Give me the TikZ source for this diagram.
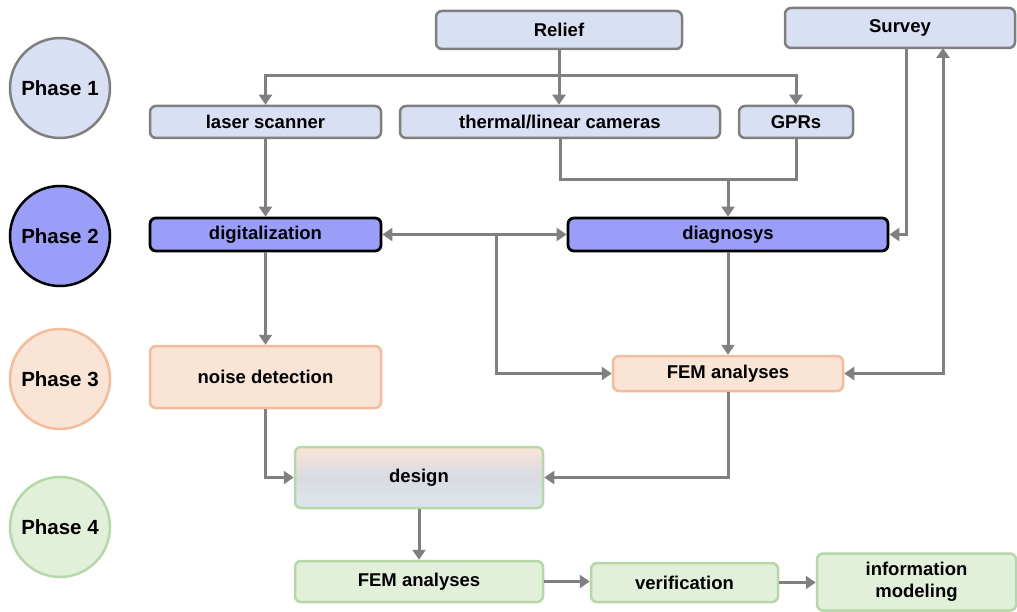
\documentclass[tikz,border=0pt]{standalone}
\usepackage{fontspec}
\setmainfont{Liberation Sans}
\usetikzlibrary{arrows.meta}
\definecolor{pA}{HTML}{DAE0F3}
\definecolor{pAd}{HTML}{7F7F7F}
\definecolor{pB}{HTML}{9A9EF8}
\definecolor{pC}{HTML}{F9E4D6}
\definecolor{pCd}{HTML}{F4BC98}
\definecolor{pD}{HTML}{E2EFD9}
\definecolor{pDd}{HTML}{B6D7A8}
\definecolor{arrc}{HTML}{808080}
\tikzset{
  box/.style={rectangle, rounded corners=6pt, line width=2.5pt, font=\fontsize{18.5}{21}\selectfont\bfseries, align=center, inner sep=0pt},
  ph1/.style={box, fill=pA, draw=pAd},
  ph2/.style={box, fill=pB, draw=black, line width=2.8pt},
  ph3/.style={box, fill=pC, draw=pCd},
  ph4/.style={box, fill=pD, draw=pDd},
  phase/.style={circle, minimum size=100pt, inner sep=0pt, line width=2.5pt, font=\fontsize{20.5}{24}\selectfont\bfseries},
  conn/.style={draw=arrc, line width=3pt},
  arr/.style={conn, -{Triangle[length=10pt,width=13pt]}},
  arrb/.style={conn, {Triangle[length=10pt,width=13pt]}-{Triangle[length=10pt,width=13pt]}},
}
\begin{document}
\begin{tikzpicture}[x=1pt,y=-1pt]
\useasboundingbox (0,0) rectangle (1017,612);
% phase circles
\node[phase, fill=pA, draw=pAd] (c1) at (60,88) {Phase 1};
\node[phase, fill=pB, draw=black] (c2) at (60,236) {Phase 2};
\node[phase, fill=pC, draw=pCd] (c3) at (60,379) {Phase 3};
\node[phase, fill=pD, draw=pDd] (c4) at (60,527) {Phase 4};
% boxes
\node[ph1, minimum width=246pt, minimum height=38pt] (relief) at (559,30) {Relief};
\node[ph1, minimum width=230pt, minimum height=40pt] (survey) at (900,28) {Survey};
\node[ph1, minimum width=231pt, minimum height=32pt] (laser) at (265.5,122) {laser scanner};
\node[ph1, minimum width=320pt, minimum height=32pt] (thermal) at (560,122) {thermal/linear cameras};
\node[ph1, minimum width=114pt, minimum height=32pt] (gprs) at (796,122) {GPRs};
\node[ph2, minimum width=231pt, minimum height=33pt] (digit) at (265.5,234.5) {digitalization};
\node[ph2, minimum width=320pt, minimum height=33pt] (diag) at (728,234.5) {diagnosys};
\node[ph3, minimum width=231pt, minimum height=62pt] (noise) at (265.5,377) {noise detection};
\node[ph3, minimum width=230pt, minimum height=35pt] (fem3) at (728,373.5) {FEM analyses};
\node[box, draw=pDd, top color=pC, bottom color=pD!35!pA, middle color=pA!70!gray!60!white, minimum width=248pt, minimum height=61pt] (design) at (419,477.5) {design};
\node[ph4, minimum width=248pt, minimum height=41pt] (fem4) at (419,581.5) {FEM analyses};
\node[ph4, minimum width=187pt, minimum height=39pt] (verif) at (684.5,582.5) {verification};
\node[ph4, minimum width=199pt, minimum height=57pt] (info) at (916.5,582) {information\\[1.5pt]modeling};
% helper coordinates
\coordinate (hub) at (559,76);
\coordinate (join) at (728,180);
\coordinate (sv1) at (906,48);
\coordinate (sv2) at (943,48);
\coordinate (br) at (496,234.5);
% connectors
\draw[arr] (relief.south) -- (relief.south |- thermal.north);
\draw[arr] (hub) -| (laser.north);
\draw[arr] (hub) -| (gprs.north);
\draw[conn] (thermal.south) |- (gprs.south |- join) -- (gprs.south);
\draw[arr] (join) -- (diag.north);
\draw[arr] (laser.south) -- (digit.north);
\draw[arr] (sv1) |- (diag.east);
\draw[arrb] (digit.east) -- (diag.west);
\draw[arr] (br) |- (fem3.west);
\draw[arr] (diag.south) -- (fem3.north);
\draw[arrb] (fem3.east) -| (sv2);
\draw[arr] (digit.south) -- (noise.north);
\draw[arr] (noise.south) |- (design.west);
\draw[arr] (fem3.south) |- (design.east);
\draw[arr] (design.south) -- (fem4.north);
\draw[arr] (fem4.east) -- (verif.west |- fem4.east);
\draw[arr] (verif.east) -- (info.west |- verif.east);
\end{tikzpicture}
\end{document}
